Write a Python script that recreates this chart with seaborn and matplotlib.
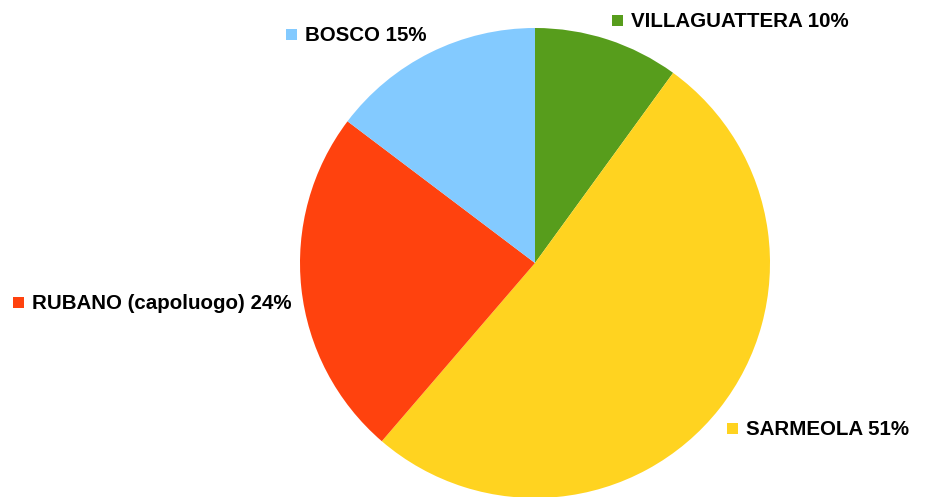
import matplotlib
matplotlib.use("Agg")
import matplotlib.pyplot as plt
import seaborn as sns
from matplotlib.patches import Rectangle

# data, clockwise from 12 o'clock (shares)
labels = ["VILLAGUATTERA", "SARMEOLA", "RUBANO (capoluogo)", "BOSCO"]
shares = [10.0, 51.3, 24.0, 14.7]
colors = ["#579D1C", "#FFD320", "#FF420E", "#83CAFF"]

# label layout in pixels (x of marker left, y of text baseline from top)
label_pos = [(612, 27), (727, 435), (13, 309), (286, 41)]

W, H = 926, 497
sns.set_style("white")
plt.rcParams["font.family"] = ["Liberation Sans", "DejaVu Sans"]

fig = plt.figure(figsize=(W / 100, H / 100), dpi=100)
fig.patch.set_facecolor("white")

# pie centre (535, 263), radius 235 px
cx, cy, r = 535, 263, 235
ax = fig.add_axes([(cx - r) / W, (H - cy - r) / H, 2 * r / W, 2 * r / H])
ax.pie(shares, colors=sns.color_palette(colors), startangle=90, counterclock=False,
       radius=1, wedgeprops=dict(linewidth=0))
ax.set_xlim(-1, 1)
ax.set_ylim(-1, 1)
ax.set_aspect("equal")
ax.axis("off")

msize = 11
for name, pct, col, (px, py) in zip(labels, shares, colors, label_pos):
    fig.patches.append(Rectangle((px / W, (H - py + 1) / H), msize / W, msize / H,
                                 transform=fig.transFigure, facecolor=col,
                                 edgecolor="none", figure=fig))
    fig.text((px + msize + 8) / W, (H - py) / H, f"{name} {round(pct)}%",
             fontsize=14.8, fontweight="bold", color="black", va="baseline", ha="left")

fig.savefig("out.png", dpi=100, facecolor="white")
